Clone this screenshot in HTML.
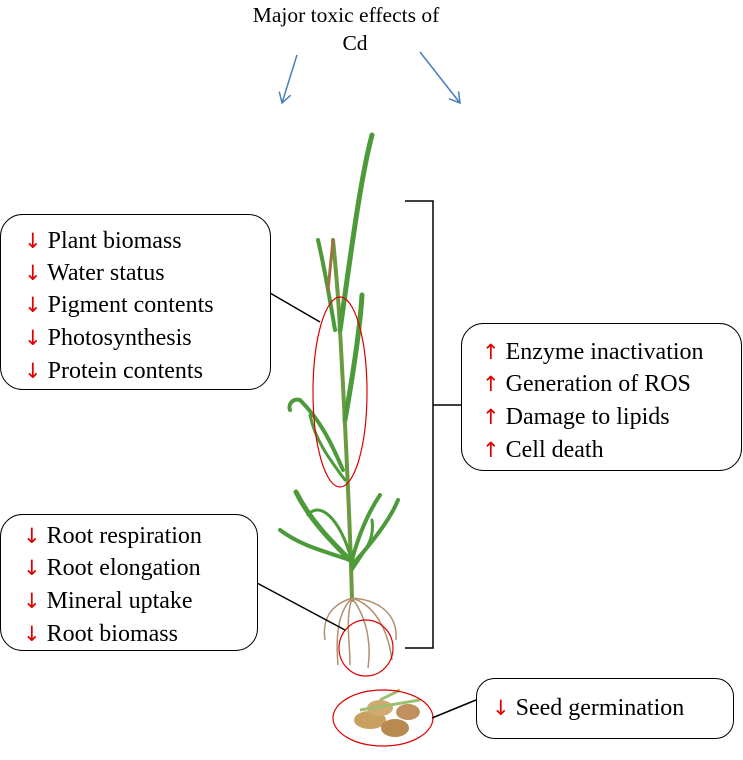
<!DOCTYPE html>
<html><head><meta charset="utf-8"><style>
body{margin:0;background:#fff;width:743px;height:760px;overflow:hidden;font-family:"Liberation Serif",serif}
svg{position:absolute;left:0;top:0}
.t{font-family:"Liberation Serif",serif;font-size:24px;fill:#000}
.r{fill:#e00000;font-family:"DejaVu Sans",sans-serif;font-size:21px}
</style></head><body>
<svg width="743" height="760" viewBox="0 0 743 760">
<defs><marker id="ab" markerWidth="14" markerHeight="14" refX="11" refY="7" orient="auto" markerUnits="userSpaceOnUse"><path d="M1,1 L11,7 L1,13" fill="none" stroke="#4a7ebb" stroke-width="1.5"/></marker></defs>
<text class="t" x="346" y="22" text-anchor="middle" style="font-size:21.5px">Major toxic effects of</text>
<text class="t" x="355" y="50" text-anchor="middle" style="font-size:21.5px">Cd</text>
<line x1="297" y1="55" x2="282" y2="103" stroke="#4a7ebb" stroke-width="1.5" marker-end="url(#ab)"/>
<line x1="420" y1="52" x2="460" y2="103" stroke="#4a7ebb" stroke-width="1.5" marker-end="url(#ab)"/>
<!-- plant -->
<g fill="none" stroke="#4c9a3a" stroke-linecap="round">
<path d="M352,600 C350,520 345,420 340,330 C338,290 335,260 333,240" stroke-width="4" stroke="#6a9a40"/>
<path d="M340,330 C350,260 360,180 372,135" stroke-width="5"/>
<path d="M335,330 C330,300 325,270 318,240" stroke-width="4"/>
<path d="M345,420 C352,380 360,330 362,295" stroke-width="5"/>
<path d="M343,470 C330,440 320,420 300,400 C292,398 288,405 290,410" stroke-width="4"/>
<path d="M345,480 C330,460 315,440 310,415" stroke-width="3"/>
<path d="M350,560 C330,540 310,520 296,492" stroke-width="5"/>
<path d="M350,560 C320,550 300,545 280,530" stroke-width="4"/>
<path d="M352,560 C360,530 370,510 380,495" stroke-width="4"/>
<path d="M352,565 C370,545 390,520 398,500" stroke-width="4"/>
<path d="M350,555 C340,520 320,500 308,515" stroke-width="3"/>
<path d="M352,570 C365,550 375,540 372,520" stroke-width="3"/>
<path d="M333,240 L328,290" stroke="#a07040" stroke-width="3"/>
</g>
<g fill="none" stroke="#b09070" stroke-width="1.5">
<path d="M352,598 C340,610 335,630 338,665"/><path d="M352,598 C345,620 350,640 350,665"/>
<path d="M352,598 C365,615 372,640 368,668"/><path d="M352,598 C375,605 388,630 392,660"/>
<path d="M352,598 C330,605 322,620 325,640"/><path d="M352,598 C380,600 398,615 396,640"/>
</g>
<g>
<ellipse cx="370" cy="720" rx="16" ry="9" fill="#c9a060"/><ellipse cx="395" cy="728" rx="14" ry="9" fill="#b88a50"/>
<ellipse cx="380" cy="708" rx="13" ry="8" fill="#d0aa70"/><ellipse cx="408" cy="712" rx="12" ry="8" fill="#c09060"/>
<path d="M360,710 L420,700 M380,700 L400,690" stroke="#9cc070" stroke-width="3"/>
</g>
<!-- ellipses -->
<ellipse cx="340" cy="392" rx="27" ry="95" fill="none" stroke="#e00000" stroke-width="1.2"/>
<ellipse cx="366" cy="648" rx="27" ry="28" fill="none" stroke="#e00000" stroke-width="1.2"/>
<ellipse cx="383" cy="718" rx="50" ry="28" fill="none" stroke="#e00000" stroke-width="1.2"/>
<!-- connectors -->
<g stroke="#000" stroke-width="1.5" fill="none">
<line x1="270" y1="293" x2="320" y2="322"/>
<line x1="257" y1="583" x2="345" y2="630"/>
<line x1="432" y1="718" x2="476" y2="700"/>
<path d="M405,201 H433 V648 H405 M433,405 H461"/>
</g>
<!-- boxes -->
<g fill="#fff" stroke="#000" stroke-width="1">
<rect x="0.5" y="214.5" width="270" height="175" rx="22"/>
<rect x="461.5" y="323.5" width="280" height="147" rx="22"/>
<rect x="0.5" y="514.5" width="257" height="136" rx="22"/>
<rect x="476.5" y="678.5" width="257" height="60" rx="18"/>
</g>
<g class="t">
<text x="24" y="248"><tspan class="r">↓</tspan> Plant biomass</text>
<text x="24" y="280"><tspan class="r">↓</tspan> Water status</text>
<text x="24" y="312"><tspan class="r">↓</tspan> Pigment contents</text>
<text x="24" y="345"><tspan class="r">↓</tspan> Photosynthesis</text>
<text x="24" y="378"><tspan class="r">↓</tspan> Protein contents</text>
<text x="482" y="359"><tspan class="r">↑</tspan> Enzyme inactivation</text>
<text x="482" y="391"><tspan class="r">↑</tspan> Generation of ROS</text>
<text x="482" y="424"><tspan class="r">↑</tspan> Damage to lipids</text>
<text x="482" y="457"><tspan class="r">↑</tspan> Cell death</text>
<text x="23" y="543"><tspan class="r">↓</tspan> Root respiration</text>
<text x="23" y="575"><tspan class="r">↓</tspan> Root elongation</text>
<text x="23" y="608"><tspan class="r">↓</tspan> Mineral uptake</text>
<text x="23" y="641"><tspan class="r">↓</tspan> Root biomass</text>
<text x="492" y="715"><tspan class="r">↓</tspan> Seed germination</text>
</g>
</svg>
</body></html>
